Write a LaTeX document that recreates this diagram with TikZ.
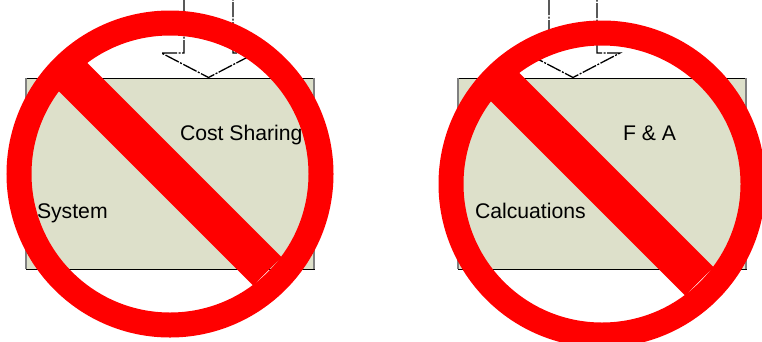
\documentclass[tikz,border=0pt]{standalone}
\usepackage{fontspec}
\setmainfont{Liberation Sans}
\definecolor{boxfill}{HTML}{DDE0CA}
\definecolor{shade}{HTML}{808080}
\definecolor{nored}{HTML}{FF0000}
\tikzset{
  x=1pt,y=-1pt,
  boxnode/.style={draw=black,line width=0.8pt,fill=boxfill,minimum width=288pt,minimum height=191pt,inner sep=0pt,outer sep=0pt},
  shadeedge/.style={draw=shade,line width=1.4pt},
  blockarrow/.style={draw=black,line width=1.3pt,line join=miter,dash pattern=on 15pt off 1.5pt on 2pt off 1.5pt},
  label/.style={font=\fontsize{21.2}{25}\selectfont,text=black,inner sep=0pt,outer sep=0pt},
  ring/.style={circle,draw=nored,line width=25pt,minimum size=302pt,inner sep=0pt,outer sep=0pt,fill=none},
  slash/.style={draw=nored,line width=40pt,line cap=butt},
}
\begin{document}
\begin{tikzpicture}
\useasboundingbox (0,0) rectangle (762,341);
\clip (0,0) rectangle (762,341);
\fill[white] (0,0) rectangle (762,341);
% boxes
\node[boxnode] (boxL) at (170,173.5) {};
\node[boxnode] (boxR) at (602,173.5) {};
\draw[shadeedge] (boxL.north west) -- (boxL.south west);
\draw[shadeedge] (boxL.north east) -- (boxL.south east);
\draw[shadeedge] (boxR.north west) -- (boxR.south west);
\draw[shadeedge] (boxR.north east) -- (boxR.south east);
% block arrows
\draw[blockarrow] (184,0) -- (184,53) -- (161.5,53) -- (208.5,77.5) -- (255.5,53) -- (233,53) -- (233,0);
\draw[blockarrow] (549,0) -- (549,53) -- (526,53) -- (573,77.5) -- (620,53) -- (597,53) -- (597,0);
% labels
\node[label,anchor=base west] (costL) at (180,140) {Cost Sharing};
\node[label,anchor=base west] (sysL) at (37,218) {System};
\node[label,anchor=base west] (faR) at (623,140) {F \& A};
\node[label,anchor=base west] (calcR) at (475,218) {Calcuations};
% prohibition signs
\coordinate (cL) at (170,174);
\coordinate (cR) at (602,184);
\draw[slash] ([shift={(-105,-105)}]cL) -- ([shift={(97.3,97.3)}]cL);
\draw[slash] ([shift={(-105,-105)}]cR) -- ([shift={(97.3,97.3)}]cR);
\node[ring] (ringL) at (cL) {};
\node[ring] (ringR) at (cR) {};
\end{tikzpicture}
\end{document}
